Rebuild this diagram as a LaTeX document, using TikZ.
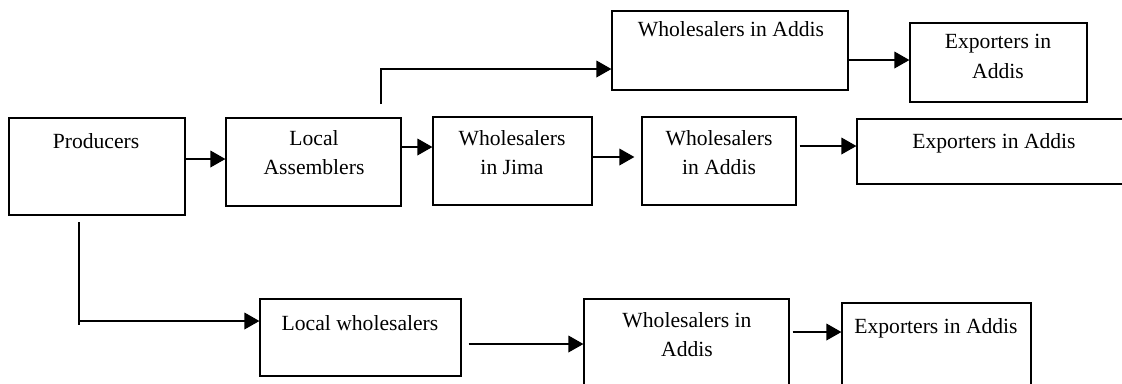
\documentclass[tikz,border=0pt]{standalone}
\usepackage{fontspec}
\setmainfont{Liberation Serif}
\usetikzlibrary{arrows.meta,fit}

\tikzset{
  box/.style={draw, line width=0.7pt, inner sep=0pt},
  txt/.style={anchor=north, inner sep=0pt, align=center, font=\fontsize{12.3}{16.7}\selectfont},
  arr/.style={-{Triangle[length=8.5pt,width=9.5pt]}, line width=0.7pt}
}

\begin{document}
\begin{tikzpicture}[x=0.02cm, y=-0.02cm]
    \useasboundingbox (0,0) rectangle (1122,383);
    \clip (0,0) rectangle (1122,383);

    % Kaesten
    \node[box, fit={(9,118) (185,215)}] (prod) {};
    \node[box, fit={(226,118) (401,206)}] (asm) {};
    \node[box, fit={(433,117) (592,205)}] (jima) {};
    \node[box, fit={(642,117) (796,205)}] (addis) {};
    \node[box, fit={(857,119) (1135,184)}] (exp) {};
    \node[box, fit={(612,11) (848,90)}] (addisT) {};
    \node[box, fit={(910,23) (1087,102)}] (expT) {};
    \node[box, fit={(260,299) (461,376)}] (lw) {};
    \node[box, fit={(584,299) (789,400)}] (addisB) {};
    \node[box, fit={(842,303) (1031,400)}] (expB) {};

    % Text
    \node[txt] (tprod) at (96,133) {Producers};
    \node[txt] (tasm) at (314,130) {Local\\Assemblers};
    \node[txt] (tjima) at (512,130) {Wholesalers\\in Jima};
    \node[txt] (taddis) at (719,130) {Wholesalers\\in Addis};
    \node[txt] (texp) at (994,133) {Exporters in Addis};
    \node[txt] (taddisT) at (731,21) {Wholesalers in Addis};
    \node[txt] (texpT) at (998,34) {Exporters in\\Addis};
    \node[txt] (tlw) at (360,315) {Local wholesalers};
    \node[txt] (taddisB) at (687,312) {Wholesalers in\\Addis};
    \node[txt] (texpB) at (936,318) {Exporters in Addis};

    % Pfeile
    \coordinate (up) at (381,104);
    \coordinate (down) at (79,222);
    \coordinate (corner) at (79,321);

    \draw[arr] (prod.east |- 0,159) -- (asm.west |- 0,159);
    \draw[arr] (asm.east |- 0,147) -- (jima.west |- 0,147);
    \draw[arr] (jima.east |- 0,157) -- ([xshift=-4pt]addis.west |- 0,157);
    \draw[arr] ([xshift=1.7pt]addis.east |- 0,146) -- (exp.west |- 0,146);
    \draw[arr] (up) |- (addisT.west |- 0,69);
    \draw[arr] (addisT.east |- 0,60) -- (expT.west |- 0,60);
    \draw[line width=0.7pt] (down) -- ([yshift=-2.3pt]corner);
    \draw[arr] (corner) -- (lw.west |- corner);
    \draw[arr] ([xshift=4pt]lw.east |- 0,344) -- (addisB.west |- 0,344);
    \draw[arr] ([xshift=1.7pt]addisB.east |- 0,332) -- (expB.west |- 0,332);
\end{tikzpicture}
\end{document}
